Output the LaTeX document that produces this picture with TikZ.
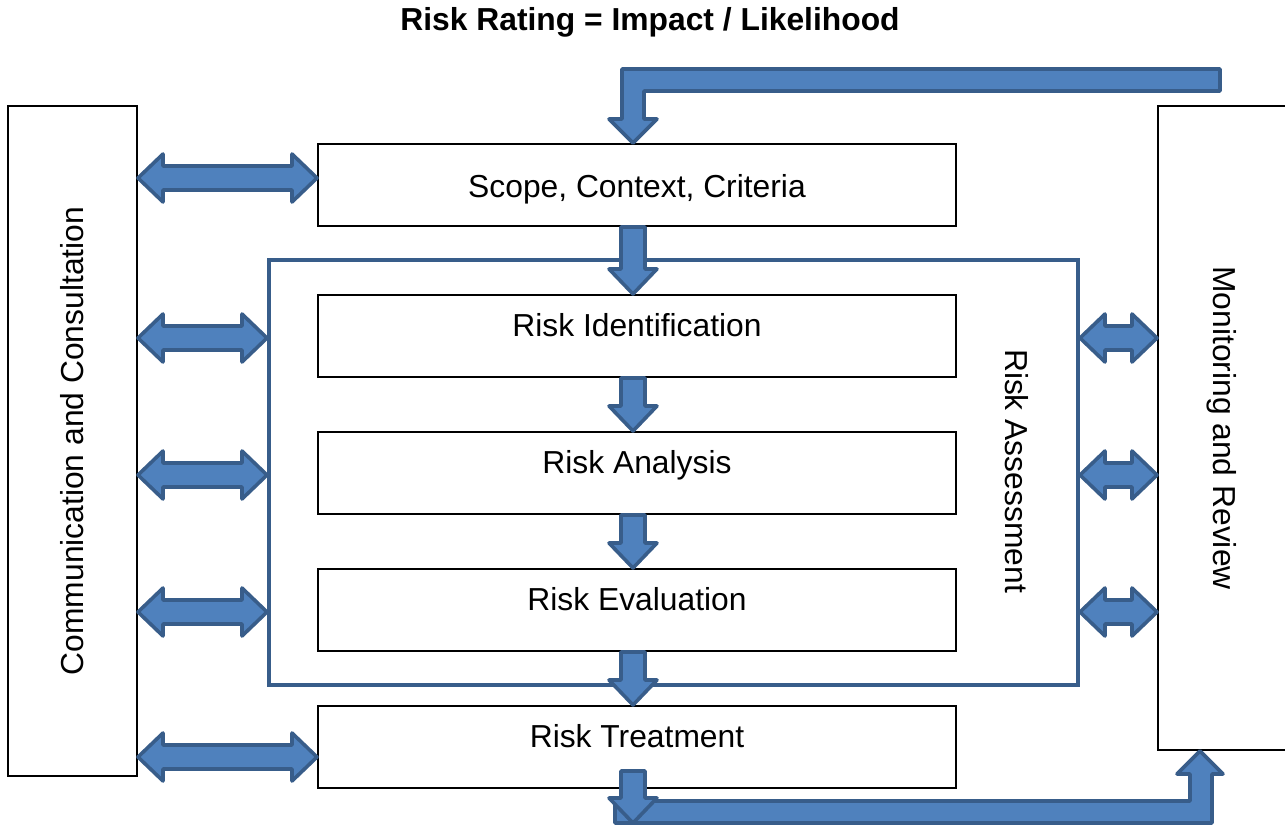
\documentclass[tikz,border=0pt]{standalone}
\usepackage{fontspec}
\setmainfont{Liberation Sans}
\usetikzlibrary{calc}

\definecolor{blockfill}{HTML}{4F81BD}
\definecolor{blockline}{HTML}{385D8A}

\tikzset{
  txt/.style={font=\fontsize{15.9pt}{19pt}\selectfont},
  heading/.style={font=\fontsize{15.9pt}{19pt}\selectfont\bfseries},
  box/.style={draw,line width=1pt,txt,inner sep=0pt},
  stage/.style={box,minimum width=319pt,minimum height=41pt,text height=11.5pt,text depth=11pt},
  frame/.style={draw=blockline,line width=2pt,inner sep=0pt},
  blockarrow/.style={fill=blockfill,draw=blockline,line width=1.8pt,line join=round},
}

%% two-headed block arrow, tips at #1 and at the x of #2
\newcommand\dblarrow[2]{%
  \draw[blockarrow] let \p1=(#1), \p2=(#2) in
    (\p1) -- (\x1+12.5pt,\y1+12pt) -- (\x1+12.5pt,\y1+6pt) -- (\x2-12.5pt,\y1+6pt)
    -- (\x2-12.5pt,\y1+12pt) -- (\x2,\y1) -- (\x2-12.5pt,\y1-12pt) -- (\x2-12.5pt,\y1-6pt)
    -- (\x1+12.5pt,\y1-6pt) -- (\x1+12.5pt,\y1-12pt) -- cycle;}

%% downward block arrow from #1 to tip #2
\newcommand\downblock[2]{%
  \draw[blockarrow] let \p1=(#1), \p2=(#2) in
    (\p2) -- (\x2+12pt,\y2+12.5pt) -- (\x2+6pt,\y2+12.5pt) -- (\x2+6pt,\y1)
    -- (\x2-6pt,\y1) -- (\x2-6pt,\y2+12.5pt) -- (\x2-12pt,\y2+12.5pt) -- cycle;}

\begin{document}
\begin{tikzpicture}[x=0.5pt,y=-0.5pt]
    \useasboundingbox (0,0) rectangle (1285,825);

    \node[heading] (title) at (650,22) {Risk Rating = Impact / Likelihood};

    %% side boxes
    \node[box,minimum width=64.5pt,minimum height=335pt] (comm) at (72.5,441) {};
    \node[txt,rotate=90] (commtext) at (comm.center) {Communication and Consultation};
    \node[box,minimum width=66pt,minimum height=322pt] (monitor) at (1224,428) {};
    \node[txt,rotate=-90] (monitortext) at (1222,428) {Monitoring and Review};

    %% assessment frame
    \node[frame,minimum width=404.5pt,minimum height=212.5pt] (assess) at (673.5,472.5) {};
    \node[txt,rotate=-90] (assesstext) at (1017,471) {Risk Assessment};

    %% stages
    \node[stage,text height=12.5pt,text depth=0pt] (scope) at (637,185) {Scope, Context, Criteria};
    \node[stage] (ident) at (637,336) {Risk Identification};
    \node[stage] (analysis) at (637,473) {Risk Analysis};
    \node[stage] (evaluation) at (637,610) {Risk Evaluation};
    \node[stage] (treatment) at (637,747) {Risk Treatment};

    \coordinate (axis) at (633,0);

    %% feed from monitoring into scope
    \draw[blockarrow] (axis |- scope.north) -- ++(24,-24) -- ++(-13,0) -- ++(0,-28)
      -- ++(576,0) -- ++(0,-22) -- ++(-598,0) -- ++(0,50) -- ++(-13,0) -- cycle;

    %% down the chain
    \downblock{axis |- scope.south}{axis |- ident.north}
    \downblock{axis |- ident.south}{axis |- analysis.north}
    \downblock{axis |- analysis.south}{axis |- evaluation.north}
    \downblock{axis |- evaluation.south}{axis |- treatment.north}

    %% back up to monitoring
    \coordinate (monin) at ($(monitor.south)+(-24,0)$);
    \draw[blockarrow] (monin) -- ++(23,23) -- ++(-11,0) -- ++(0,49) -- ++(-597,0)
      -- ++(0,-22) -- ++(575,0) -- ++(0,-27) -- ++(-13,0) -- cycle;
    \coordinate (treatout) at ($(axis |- treatment.south)+(0,-18)$);
    \coordinate (bottomtip) at (axis |- 0,823);
    \downblock{treatout}{bottomtip}

    %% communication links
    \dblarrow{$(comm.east |- scope.west)+(0,-7)$}{scope.west}
    \dblarrow{$(comm.east |- treatment.west)+(0,10)$}{treatment.west}
    \foreach \s in {ident,analysis,evaluation} {
      \dblarrow{$(comm.east |- \s.west)+(0,2)$}{assess.west}
      \dblarrow{$(assess.east |- \s.east)+(0,2)$}{monitor.west}
    }
\end{tikzpicture}
\end{document}
